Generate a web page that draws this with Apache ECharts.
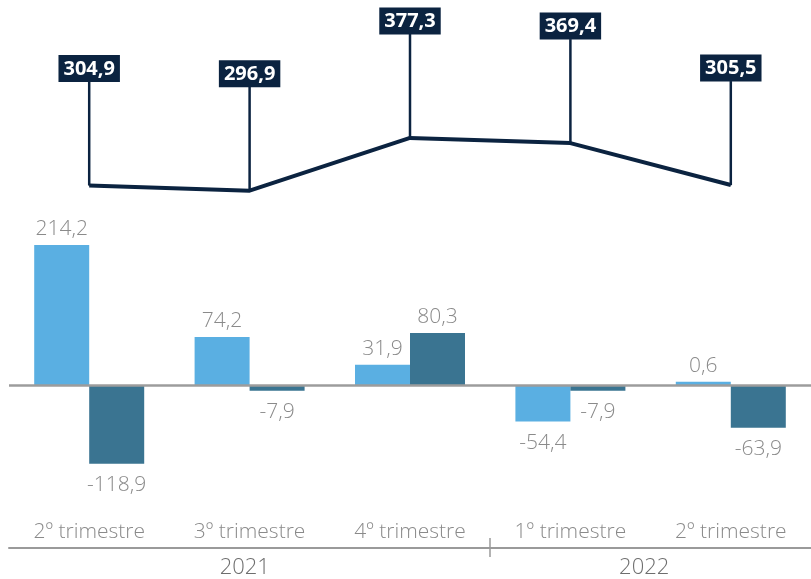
<!DOCTYPE html>
<html>
<head>
<meta charset="utf-8">
<script src="https://cdn.jsdelivr.net/npm/echarts@6/dist/echarts.min.js"></script>
<style>
  html, body { margin: 0; padding: 0; background: #fff; }
  #chart { width: 811px; height: 579px; }
</style>
</head>
<body>
<div id="chart"></div>
<script>
// trimestres e anos
const categories = ['2º trimestre', '3º trimestre', '4º trimestre', '1º trimestre', '2º trimestre']
const years = ['2021', '2022']
const yearPos = [1.47, 3.96]   // posição dos anos na escala 0..5
const yearSplit = [3]

// séries
const serieA = [214.2, 74.2, 31.9, -54.4, 0.6]
const serieB = [-118.9, -7.9, 80.3, -7.9, -63.9]
const totais = [304.9, 296.9, 377.3, 369.4, 305.5]

const fmt = v => v.toFixed(1).replace('.', ',')
const font = "'Open Sans', sans-serif"

// rótulo em cima para positivos, em baixo para negativos
const barLabels = arr => arr.map(v => ({
  value: v,
  label: v < 0 ? { position: 'bottom', distance: 11 } : { position: 'top', distance: 5 }
}))

const chart = echarts.init(document.getElementById('chart'))

const barLabel = {
  show: true, color: '#8a8a8a', fontSize: 21, fontWeight: 300,
  fontFamily: font, formatter: p => fmt(p.value)
}

const option = {
  animation: false,
  grid: { left: 9, right: -5, top: 123, bottom: 62 },
  xAxis: [
    {
      type: 'category',
      data: categories,
      axisLine: { show: false },
      axisTick: { show: false },
      axisLabel: { color: '#8a8a8a', fontSize: 21, fontWeight: 300, fontFamily: font, margin: 5 }
    },
    {
      type: 'value', min: 0, max: 5, position: 'bottom', offset: 31,
      axisLine: { show: true, lineStyle: { color: '#9a9a9a', width: 2 } },
      axisTick: { show: false },
      axisLabel: { show: false },
      splitLine: { show: false }
    },
    {
      type: 'value', min: 0, max: 5, position: 'bottom', offset: 21,
      axisLine: { show: false },
      axisTick: { show: true, customValues: yearSplit, length: 19, lineStyle: { color: '#9a9a9a', width: 1.5 } },
      axisLabel: {
        customValues: yearPos,
        formatter: v => years[yearPos.indexOf(v)] || '',
        color: '#6e6e6e', fontSize: 22, fontWeight: 300, fontFamily: font, margin: 19
      },
      splitLine: { show: false }
    }
  ],
  yAxis: {
    type: 'value', min: -200, max: 400,
    show: false,
    splitLine: { show: false }
  },
  series: [
    {
      type: 'bar',
      data: barLabels(serieA),
      barWidth: 55,
      barGap: '0%',
      barMinHeight: 4,
      itemStyle: { color: '#5aafe2' },
      label: barLabel,
      markLine: {
        silent: true,
        symbol: 'none',
        label: { show: false },
        lineStyle: { color: '#9c9c9c', width: 2.5, type: 'solid' },
        data: [{ yAxis: 0 }]
      }
    },
    {
      type: 'bar',
      data: barLabels(serieB),
      barWidth: 55,
      barGap: '0%',
      itemStyle: { color: '#3a7491' },
      label: barLabel
    },
    {
      // hastes verticais dos rótulos
      type: 'scatter',
      data: totais,
      symbol: 'rect',
      symbolSize: [2.5, 104],
      symbolOffset: [0, '-50%'],
      itemStyle: { color: '#0b2340', opacity: 1 },
      silent: true,
      z: 3
    },
    {
      type: 'line',
      data: totais,
      showSymbol: true,
      symbol: 'circle',
      symbolSize: 1,
      itemStyle: { color: '#0b2340' },
      lineStyle: { color: '#0b2340', width: 4 },
      z: 4,
      label: {
        show: true,
        position: 'top',
        distance: 103,
        formatter: p => fmt(p.value),
        color: '#fff',
        fontSize: 20,
        fontWeight: 'bold',
        fontFamily: font,
        backgroundColor: '#0b2340',
        padding: [4, 5, 3, 5]
      }
    }
  ]
}

chart.setOption(option)
</script>
</body>
</html>
